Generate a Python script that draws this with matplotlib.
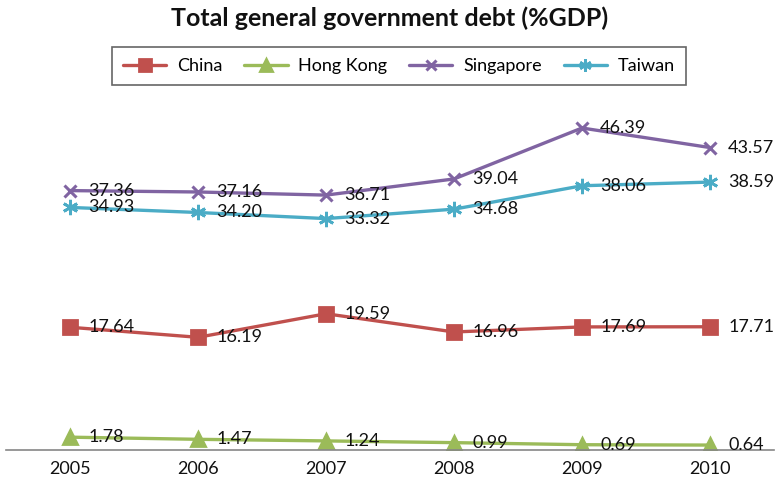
import matplotlib
matplotlib.use("Agg")
import matplotlib.pyplot as plt

plt.rcParams['font.family'] = ['Lato', 'DejaVu Sans']

years = ["2005", "2006", "2007", "2008", "2009", "2010"]
china = [17.64, 16.19, 19.59, 16.96, 17.69, 17.71]
hong_kong = [1.78, 1.47, 1.24, 0.99, 0.69, 0.64]
singapore = [37.36, 37.16, 36.71, 39.04, 46.39, 43.57]
taiwan = [34.93, 34.20, 33.32, 34.68, 38.06, 38.59]

series = [
    ("China", china, "#C0504D", "s", 10, 2.0),
    ("Hong Kong", hong_kong, "#9BBB59", "^", 10, 2.0),
    ("Singapore", singapore, "#8064A2", "x", 9, 2.2),
    ("Taiwan", taiwan, "#4BACC6", (6, 2, 0), 11, 2.0),
]

fig = plt.figure(figsize=(7.79, 4.86), dpi=100)
ax = fig.add_axes([6/779, 1 - 449.5/486, 768/779, (449.5 - 103)/486])

x = list(range(len(years)))
for name, vals, col, mk, ms, mew in series:
    ax.plot(x, vals, color=col, lw=2.4, marker=mk, ms=ms, mec=col, mfc=col,
            mew=mew, label=name, solid_capstyle='round')
    for xi, v in zip(x, vals):
        ax.annotate(f"{v:.2f}", (xi, v), xytext=(13, 0), textcoords='offset points',
                    ha='left', va='center', fontsize=13, color='#111111')

ax.set_xlim(-0.5, len(years) - 0.5)
ax.set_ylim(0, 50)
ax.set_xticks(x)
ax.set_xticklabels(years, fontsize=13, color='#111111')
ax.set_yticks([])
for s in ['top', 'right', 'left']:
    ax.spines[s].set_visible(False)
ax.spines['bottom'].set_color('#868686')
ax.spines['bottom'].set_linewidth(1.2)
ax.tick_params(axis='x', length=0, pad=8)
ax.patch.set_alpha(0)

fig.text(0.5, 1 - 18/486, "Total general government debt (%GDP)", ha='center', va='center',
         fontsize=18, fontweight='bold', color='#111111')

leg = fig.legend(loc='center', bbox_to_anchor=(399/779, 1 - 66/486), ncol=4, frameon=True,
                 fontsize=13, handlelength=2.4, columnspacing=1.2, handletextpad=0.6,
                 fancybox=False, borderpad=0.6, markerscale=0.8)
leg.get_frame().set_edgecolor('#404040')
leg.get_frame().set_linewidth(1.2)

fig.savefig("out.png", dpi=100)
